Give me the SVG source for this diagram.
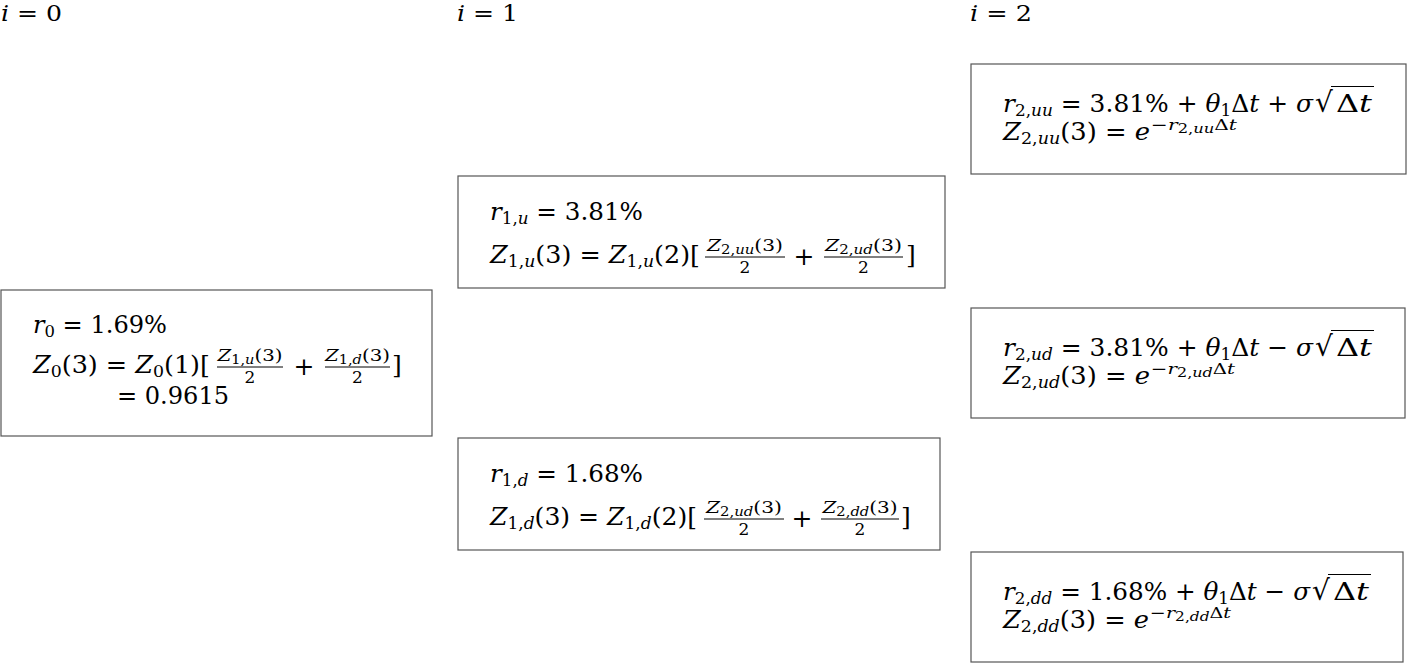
<svg xmlns="http://www.w3.org/2000/svg" width="1407" height="664" viewBox="0 0 1407 664" font-family="'DejaVu Serif',serif">
<style>
text{font-family:'DejaVu Serif',serif;font-size:25px;fill:#000}
.i{font-style:italic}
.s{font-size:17px}
.ss{font-size:12.5px}
.n{font-size:17px}
.sp{font-size:15.5px}
.hd{font-size:23px}
.box{fill:#fff;stroke:#555;stroke-width:1.2}
.bar{stroke:#000;stroke-width:1}
.rad{font-family:'DejaVu Serif',serif;font-size:28px}
</style>
<rect width="1407" height="664" fill="#fff"/>
<g id="headers">
<text class="hd" x="1" y="21" textLength="61" lengthAdjust="spacingAndGlyphs"><tspan class="i">i</tspan> = 0</text>
<text class="hd" x="457" y="21" textLength="61" lengthAdjust="spacingAndGlyphs"><tspan class="i">i</tspan> = 1</text>
<text class="hd" x="970" y="21" textLength="62" lengthAdjust="spacingAndGlyphs"><tspan class="i">i</tspan> = 2</text>
</g>
<g id="connectors"></g>
<g id="node-r0">
<rect class="box" x="1" y="290" width="431" height="146"/>
<text x="33" y="333" textLength="134" lengthAdjust="spacingAndGlyphs"><tspan class="i">r</tspan><tspan class="s" dy="4">0</tspan><tspan dy="-4"> = 1.69%</tspan></text>
<text x="33" y="373" textLength="177" lengthAdjust="spacingAndGlyphs"><tspan class="i">Z</tspan><tspan class="s" dy="4">0</tspan><tspan dy="-4">(3) = </tspan><tspan class="i">Z</tspan><tspan class="s" dy="4">0</tspan><tspan dy="-4">(1)[</tspan></text>
<text class="n" x="250" y="361" text-anchor="middle" textLength="65" lengthAdjust="spacingAndGlyphs"><tspan class="i">Z</tspan><tspan class="ss" dy="3">1,<tspan class="i">u</tspan></tspan><tspan dy="-3">(3)</tspan></text>
<line class="bar" x1="217" y1="367" x2="283" y2="367"/>
<text class="n" x="250" y="383" text-anchor="middle">2</text>
<text x="304" y="375" text-anchor="middle">+</text>
<text class="n" x="357.5" y="361" text-anchor="middle" textLength="65" lengthAdjust="spacingAndGlyphs"><tspan class="i">Z</tspan><tspan class="ss" dy="3">1,<tspan class="i">d</tspan></tspan><tspan dy="-3">(3)</tspan></text>
<line class="bar" x1="325" y1="367" x2="390" y2="367"/>
<text class="n" x="357.5" y="383" text-anchor="middle">2</text>
<text x="392" y="373">]</text>
<text x="117" y="404" textLength="112" lengthAdjust="spacingAndGlyphs">= 0.9615</text>
</g>
<g id="node-r1u">
<rect class="box" x="458" y="176" width="487" height="112"/>
<text x="490" y="220" textLength="153" lengthAdjust="spacingAndGlyphs"><tspan class="i">r</tspan><tspan class="s" dy="4">1,<tspan class="i">u</tspan></tspan><tspan dy="-4"> = 3.81%</tspan></text>
<text x="490" y="263" textLength="210" lengthAdjust="spacingAndGlyphs"><tspan class="i">Z</tspan><tspan class="s" dy="4">1,<tspan class="i">u</tspan></tspan><tspan dy="-4">(3) = </tspan><tspan class="i">Z</tspan><tspan class="s" dy="4">1,<tspan class="i">u</tspan></tspan><tspan dy="-4">(2)[</tspan></text>
<text class="n" x="745" y="251" text-anchor="middle" textLength="76" lengthAdjust="spacingAndGlyphs"><tspan class="i">Z</tspan><tspan class="ss" dy="3">2,<tspan class="i">uu</tspan></tspan><tspan dy="-3">(3)</tspan></text>
<line class="bar" x1="705" y1="257" x2="785" y2="257"/>
<text class="n" x="745" y="273" text-anchor="middle">2</text>
<text x="804" y="265" text-anchor="middle">+</text>
<text class="n" x="863.5" y="251" text-anchor="middle" textLength="77" lengthAdjust="spacingAndGlyphs"><tspan class="i">Z</tspan><tspan class="ss" dy="3">2,<tspan class="i">ud</tspan></tspan><tspan dy="-3">(3)</tspan></text>
<line class="bar" x1="824" y1="257" x2="903" y2="257"/>
<text class="n" x="863.5" y="273" text-anchor="middle">2</text>
<text x="906" y="263">]</text>
</g>
<g id="node-r1d">
<rect class="box" x="458" y="438" width="482" height="112"/>
<text x="490" y="482" textLength="153" lengthAdjust="spacingAndGlyphs"><tspan class="i">r</tspan><tspan class="s" dy="4">1,<tspan class="i">d</tspan></tspan><tspan dy="-4"> = 1.68%</tspan></text>
<text x="490" y="525" textLength="207" lengthAdjust="spacingAndGlyphs"><tspan class="i">Z</tspan><tspan class="s" dy="4">1,<tspan class="i">d</tspan></tspan><tspan dy="-4">(3) = </tspan><tspan class="i">Z</tspan><tspan class="s" dy="4">1,<tspan class="i">d</tspan></tspan><tspan dy="-4">(2)[</tspan></text>
<text class="n" x="744" y="513" text-anchor="middle" textLength="76" lengthAdjust="spacingAndGlyphs"><tspan class="i">Z</tspan><tspan class="ss" dy="3">2,<tspan class="i">ud</tspan></tspan><tspan dy="-3">(3)</tspan></text>
<line class="bar" x1="704" y1="519" x2="784" y2="519"/>
<text class="n" x="744" y="535" text-anchor="middle">2</text>
<text x="802" y="527" text-anchor="middle">+</text>
<text class="n" x="860" y="513" text-anchor="middle" textLength="75" lengthAdjust="spacingAndGlyphs"><tspan class="i">Z</tspan><tspan class="ss" dy="3">2,<tspan class="i">dd</tspan></tspan><tspan dy="-3">(3)</tspan></text>
<line class="bar" x1="821" y1="519" x2="899" y2="519"/>
<text class="n" x="860" y="535" text-anchor="middle">2</text>
<text x="901" y="525">]</text>
</g>
<g id="node-r2uu">
<rect class="box" x="971" y="64" width="435" height="110"/>
<text x="1003" y="112" textLength="310" lengthAdjust="spacingAndGlyphs"><tspan class="i">r</tspan><tspan class="s" dy="4">2,<tspan class="i">uu</tspan></tspan><tspan dy="-4"> = 3.81% + </tspan><tspan class="i">θ</tspan><tspan class="s" dy="4">1</tspan><tspan dy="-4">Δ</tspan><tspan class="i">t</tspan> + <tspan class="i">σ</tspan></text>
<text class="rad" x="1315" y="112">√</text>
<line class="bar" x1="1331" y1="86.5" x2="1374" y2="86.5"/>
<text x="1336" y="112" textLength="36" lengthAdjust="spacingAndGlyphs">Δ<tspan class="i">t</tspan></text>
<text x="1003" y="140" textLength="147" lengthAdjust="spacingAndGlyphs"><tspan class="i">Z</tspan><tspan class="s" dy="4">2,<tspan class="i">uu</tspan></tspan><tspan dy="-4">(3) = </tspan><tspan class="i">e</tspan></text>
<text class="sp" x="1151" y="130" textLength="86" lengthAdjust="spacingAndGlyphs">−<tspan class="i">r</tspan><tspan class="ss" dy="3">2,<tspan class="i">uu</tspan></tspan><tspan dy="-3">Δ</tspan><tspan class="i">t</tspan></text>
</g>
<g id="node-r2ud">
<rect class="box" x="971" y="308" width="434" height="110"/>
<text x="1003" y="356" textLength="310" lengthAdjust="spacingAndGlyphs"><tspan class="i">r</tspan><tspan class="s" dy="4">2,<tspan class="i">ud</tspan></tspan><tspan dy="-4"> = 3.81% + </tspan><tspan class="i">θ</tspan><tspan class="s" dy="4">1</tspan><tspan dy="-4">Δ</tspan><tspan class="i">t</tspan> − <tspan class="i">σ</tspan></text>
<text class="rad" x="1315" y="356">√</text>
<line class="bar" x1="1331" y1="330.5" x2="1374" y2="330.5"/>
<text x="1336" y="356" textLength="36" lengthAdjust="spacingAndGlyphs">Δ<tspan class="i">t</tspan></text>
<text x="1003" y="384" textLength="147" lengthAdjust="spacingAndGlyphs"><tspan class="i">Z</tspan><tspan class="s" dy="4">2,<tspan class="i">ud</tspan></tspan><tspan dy="-4">(3) = </tspan><tspan class="i">e</tspan></text>
<text class="sp" x="1151" y="374" textLength="84" lengthAdjust="spacingAndGlyphs">−<tspan class="i">r</tspan><tspan class="ss" dy="3">2,<tspan class="i">ud</tspan></tspan><tspan dy="-3">Δ</tspan><tspan class="i">t</tspan></text>
</g>
<g id="node-r2dd">
<rect class="box" x="971" y="552" width="432" height="110"/>
<text x="1003" y="600" textLength="307" lengthAdjust="spacingAndGlyphs"><tspan class="i">r</tspan><tspan class="s" dy="4">2,<tspan class="i">dd</tspan></tspan><tspan dy="-4"> = 1.68% + </tspan><tspan class="i">θ</tspan><tspan class="s" dy="4">1</tspan><tspan dy="-4">Δ</tspan><tspan class="i">t</tspan> − <tspan class="i">σ</tspan></text>
<text class="rad" x="1312" y="600">√</text>
<line class="bar" x1="1328" y1="574.5" x2="1371" y2="574.5"/>
<text x="1333" y="600" textLength="36" lengthAdjust="spacingAndGlyphs">Δ<tspan class="i">t</tspan></text>
<text x="1003" y="628" textLength="146" lengthAdjust="spacingAndGlyphs"><tspan class="i">Z</tspan><tspan class="s" dy="4">2,<tspan class="i">dd</tspan></tspan><tspan dy="-4">(3) = </tspan><tspan class="i">e</tspan></text>
<text class="sp" x="1150" y="618" textLength="81" lengthAdjust="spacingAndGlyphs">−<tspan class="i">r</tspan><tspan class="ss" dy="3">2,<tspan class="i">dd</tspan></tspan><tspan dy="-3">Δ</tspan><tspan class="i">t</tspan></text>
</g>
</svg>
